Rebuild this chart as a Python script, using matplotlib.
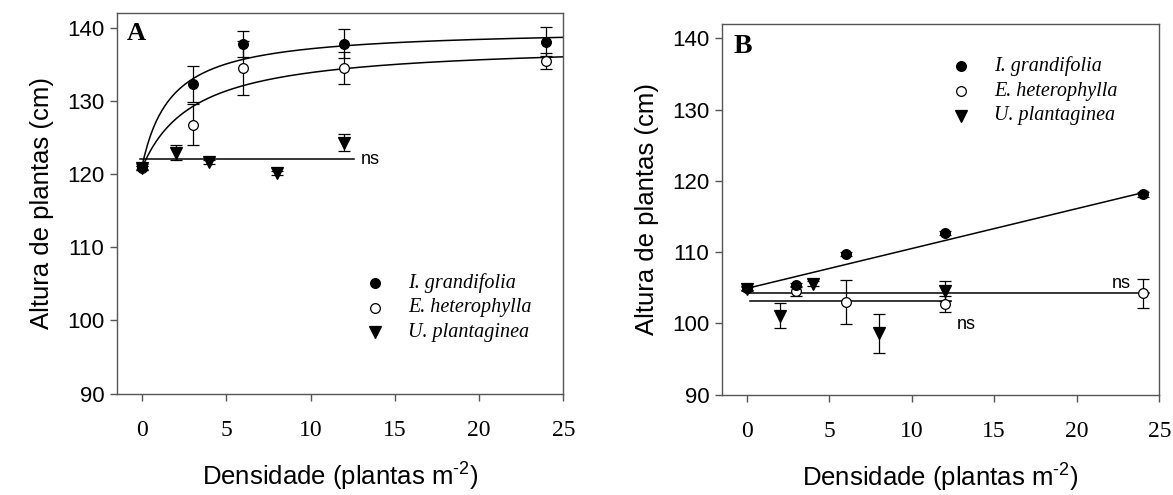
import numpy as np
import matplotlib
matplotlib.use("Agg")
import matplotlib.pyplot as plt

plt.rcParams["font.family"] = ["Liberation Sans", "DejaVu Sans"]
plt.rcParams["mathtext.fontset"] = "custom"
plt.rcParams["mathtext.rm"] = "Liberation Sans"
plt.rcParams["mathtext.it"] = "Liberation Sans:italic"

#########################################################
# DATA - panel A
#########################################################

a_ig_x = [0, 3, 6, 12, 24]
a_ig_y = [121.0, 132.3, 137.8, 137.8, 138.1]
a_ig_err = [0.3, 2.4, 1.8, 2.0, 2.0]

a_eh_x = [0, 3, 6, 12, 24]
a_eh_y = [120.8, 126.7, 134.5, 134.5, 135.4]
a_eh_err = [0.3, 2.8, 3.7, 2.2, 1.1]

a_up_x = [0, 2, 4, 8, 12]
a_up_y = [120.8, 122.9, 121.6, 120.1, 124.3]
a_up_err = [0.3, 1.0, 0.3, 0.3, 1.1]

# hyperbolic fits y = y0 + a*x/(b+x)
a_ig_fit = (121.0, 18.9, 1.73)
a_eh_fit = (120.8, 17.1, 3.1)
a_up_ns = 122.0

#########################################################
# DATA - panel B
#########################################################

b_ig_x = [0, 3, 6, 12, 24]
b_ig_y = [105.0, 105.4, 109.7, 112.7, 118.1]
b_ig_err = [0.3, 0.3, 0.3, 0.3, 0.3]

b_eh_x = [0, 3, 6, 12, 24]
b_eh_y = [105.0, 104.5, 103.0, 102.7, 104.2]
b_eh_err = [0.3, 0.7, 3.1, 1.1, 2.1]

b_up_x = [0, 2, 4, 8, 12]
b_up_y = [104.8, 101.1, 105.6, 98.6, 104.6]
b_up_err = [0.3, 1.8, 0.3, 2.7, 1.4]

# linear fit y = c + m*x
b_ig_fit = (104.9, 0.56)
b_eh_ns = 104.2
b_up_ns = 103.1

labels = ["I. grandifolia", "E. heterophylla", "U. plantaginea"]

#########################################################

SERIF = ["Liberation Serif", "DejaVu Serif"]
SPINE = "#555555"

fig = plt.figure(figsize=(11.73, 4.95), dpi=100)

axA = fig.add_axes([0.0995, 0.205, 0.3807, 0.7687])
axB = fig.add_axes([0.6153, 0.2026, 0.3730, 0.7489])


def draw_points(ax, x, y, err, marker, face, size):
    ax.errorbar(
        x, y, yerr=err,
        fmt=marker, color="black", mfc=face, mec="black",
        ms=size, mew=0.9, elinewidth=0.9, capsize=4.5, capthick=0.9,
        zorder=3
    )


def style_axes(ax):
    ax.set_xlim(-1.5, 25)
    ax.set_ylim(90, 142)
    ax.set_xticks([0, 5, 10, 15, 20, 25])
    ax.set_yticks([90, 100, 110, 120, 130, 140])
    for s in ax.spines.values():
        s.set_color(SPINE)
        s.set_linewidth(1.0)
    ax.tick_params(direction="out", length=5, width=1.0, color=SPINE,
                   labelsize=16, top=False, right=False)
    for t in ax.get_xticklabels():
        t.set_fontfamily(SERIF)
        t.set_fontsize(17)
    ax.tick_params(axis="x", pad=14)
    ax.tick_params(axis="y", pad=4)
    ax.set_xlabel("Densidade (plantas m$^{\\text{-2}}$)", fontsize=18.5,
                  labelpad=14)
    ax.set_ylabel("Altura de plantas (cm)", fontsize=18.5, labelpad=9)


def draw_legend(ax, x_mark, x_text, y_rows):
    markers = [("o", "black", 7), ("o", "white", 7), ("v", "black", 8)]
    for (m, f, s), lab, yr in zip(markers, labels, y_rows):
        ax.plot([x_mark], [yr], marker=m, mfc=f, mec="black", ms=s, mew=0.9,
                ls="none")
        ax.text(x_text, yr, lab, fontsize=14.5, fontfamily=SERIF,
                style="italic", va="center", ha="left")


#########################################################
# PANEL A
#########################################################

xs = np.linspace(0, 25, 300)
y0, a, b = a_ig_fit
axA.plot(xs, y0 + a * xs / (b + xs), color="black", lw=1.1, zorder=2)
y0, a, b = a_eh_fit
axA.plot(xs, y0 + a * xs / (b + xs), color="black", lw=1.1, zorder=2)
axA.plot([-0.1, 12.6], [a_up_ns, a_up_ns], color="black", lw=1.1, zorder=2)
axA.text(13.0, a_up_ns, "ns", fontsize=13, va="center", ha="left")

draw_points(axA, a_up_x, a_up_y, a_up_err, "v", "black", 8)
draw_points(axA, a_eh_x, a_eh_y, a_eh_err, "o", "white", 7)
draw_points(axA, a_ig_x, a_ig_y, a_ig_err, "o", "black", 7)

style_axes(axA)
draw_legend(axA, 13.8, 15.8, [105.1, 101.7, 98.4])
axA.text(-0.9, 139.2, "A", fontsize=19, fontweight="bold", fontfamily=SERIF,
         va="center", ha="left")

#########################################################
# PANEL B
#########################################################

c, m = b_ig_fit
xl = np.array([0, 24.3])
axB.plot(xl, c + m * xl, color="black", lw=1.1, zorder=2)
axB.plot([0.2, 24.4], [b_eh_ns, b_eh_ns], color="black", lw=1.1, zorder=2)
axB.plot([0.2, 12.4], [b_up_ns, b_up_ns], color="black", lw=1.1, zorder=2)
axB.text(22.1, 105.6, "ns", fontsize=13, va="center", ha="left")
axB.text(12.75, 99.9, "ns", fontsize=13, va="center", ha="left")

draw_points(axB, b_up_x, b_up_y, b_up_err, "v", "black", 8)
draw_points(axB, b_eh_x, b_eh_y, b_eh_err, "o", "white", 7)
draw_points(axB, b_ig_x, b_ig_y, b_ig_err, "o", "black", 7)

style_axes(axB)
draw_legend(axB, 13.0, 15.0, [136.1, 132.6, 129.1])
axB.text(-0.8, 138.9, "B", fontsize=20, fontweight="bold", fontfamily=SERIF,
         va="center", ha="left")

fig.savefig("out.png", dpi=100)
